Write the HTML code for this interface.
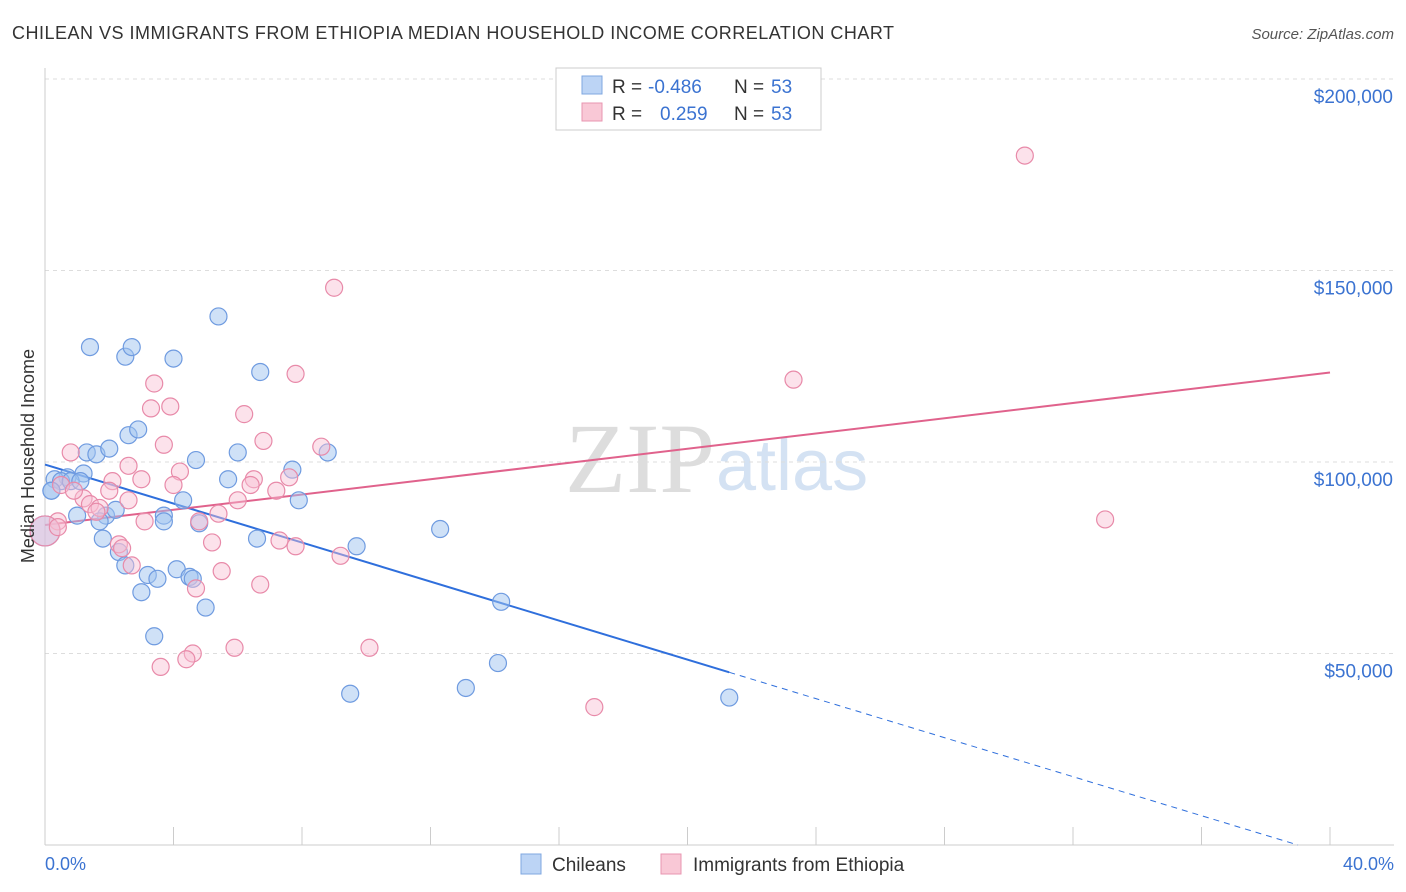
<!DOCTYPE html>
<html><head><meta charset="utf-8"><style>
body{margin:0;background:#fff;font-family:"Liberation Sans",sans-serif;}
svg{display:block}
</style></head><body>
<svg id="chart" width="1406" height="892">
<text x="12" y="39" font-size="18" fill="#333" textLength="882">CHILEAN VS IMMIGRANTS FROM ETHIOPIA MEDIAN HOUSEHOLD INCOME CORRELATION CHART</text>
<text x="1394" y="39" font-size="15" fill="#555" font-style="italic" text-anchor="end">Source: ZipAtlas.com</text>
<text x="715" y="492" font-size="100" fill="#ddd" text-anchor="end" font-family="Liberation Serif">ZIP</text>
<text x="716" y="490" font-size="72" fill="#d4e2f3">atlas</text>
<g id="grid"></g><g id="axes"></g><g id="trends"></g><g id="points"></g>
<text x="34" y="456" font-size="18" fill="#333" text-anchor="middle" transform="rotate(-90 34 456)">Median Household Income</text>
<text x="45" y="870" font-size="18" fill="#3b73d1">0.0%</text>
<text x="1394" y="870" font-size="18" fill="#3b73d1" text-anchor="end">40.0%</text>
<g>
<rect x="556" y="68" width="265" height="62" fill="#fff" stroke="#ccc"/>
<rect x="582" y="76" width="20" height="18" fill="#bcd4f5" stroke="#7fa7e0"/>
<rect x="582" y="103" width="20" height="18" fill="#f9c8d6" stroke="#e896b0"/>
<text y="93" font-size="19" fill="#333"><tspan x="612">R =</tspan><tspan x="648" fill="#3b73d1">-0.486</tspan><tspan x="734">N =</tspan><tspan x="771" fill="#3b73d1">53</tspan></text>
<text y="120" font-size="19" fill="#333"><tspan x="612">R =</tspan><tspan x="660" fill="#3b73d1">0.259</tspan><tspan x="734">N =</tspan><tspan x="771" fill="#3b73d1">53</tspan></text>
</g>
<g>
<rect x="521" y="854" width="20" height="20" fill="#bcd4f5" stroke="#7fa7e0"/>
<text x="552" y="871" font-size="19" fill="#333">Chileans</text>
<rect x="661" y="854" width="20" height="20" fill="#f9c8d6" stroke="#e896b0"/>
<text x="693" y="871" font-size="19" fill="#333">Immigrants from Ethiopia</text>
</g>
</svg>
<script>
const yTicks=[50000,100000,150000,200000];
const yTickLabels=["$50,000","$100,000","$150,000","$200,000"];
const blueX=[1.4,2.5,2.7,4.0,5.4,6.7,2.6,2.9,1.3,1.6,2.0,4.7,6.0,7.7,8.8,1.2,0.7,0.3,0.5,0.8,0.2,4.3,7.9,5.7,1.0,1.9,2.2,3.7,3.7,4.8,12.3,1.8,6.6,9.7,2.3,2.5,3.2,3.5,4.1,4.5,4.6,3.0,5.0,14.2,3.4,14.1,9.5,13.1,21.3,0.0,0.2,1.7,1.1];
const blueY=[130000,127500,130000,127000,138000,123500,107000,108500,102500,102000,103500,100500,102500,98000,102500,97000,96000,95500,95000,95000,92500,90000,90000,95500,86000,86000,87500,86000,84500,84000,82500,80000,80000,78000,76500,73000,70500,69500,72000,70000,69500,66000,62000,63500,54500,47500,39500,41000,38500,82000,92500,84500,95000];
const pinkX=[30.5,9.0,23.3,7.8,3.4,3.9,3.3,6.2,6.8,3.7,8.6,0.8,2.6,4.2,6.5,7.6,3.0,2.1,0.5,6.4,4.0,7.2,2.0,1.2,1.4,6.0,1.7,5.4,3.1,0.4,33.0,0.0,7.3,5.2,2.3,2.4,7.8,9.2,2.7,5.5,6.7,4.7,5.9,10.1,4.6,4.4,3.6,17.1,0.4,1.6,0.9,4.8,2.6];
const pinkY=[180000,145500,121500,123000,120500,114500,114000,112500,105500,104500,104000,102500,99000,97500,95500,96000,95500,95000,94000,94000,94000,92500,92500,90500,89000,90000,88000,86500,84500,84500,85000,82000,79500,79000,78500,77500,78000,75500,73000,71500,68000,67000,51500,51500,50000,48500,46500,36000,83000,87000,92500,84500,90000];
const X0=45,X1=1330,Y0=845,pxPer=191.5/50000;
const sx=v=>X0+(X1-X0)*v/40, sy=v=>Y0-v*pxPer;
const NS="http://www.w3.org/2000/svg";
function mk(t,a,p){const e=document.createElementNS(NS,t);for(const k in a)e.setAttribute(k,a[k]);p.appendChild(e);return e;}
const grid=document.getElementById('grid'),axes=document.getElementById('axes'),tr=document.getElementById('trends'),pts=document.getElementById('points');
yTicks.forEach((v,i)=>{
 const l=mk('line',{x1:X0,x2:1394,y1:sy(v),y2:sy(v),stroke:'#ddd','stroke-dasharray':'4,4'},grid);
 
 
 const t=mk('text',{x:1393,y:sy(v)+24,'font-size':19,fill:'#3b73d1','text-anchor':'end'},grid);
 t.textContent=yTickLabels[i];
 
 
});
const topGrid=mk('line',{x1:X0,x2:1394,y1:79,y2:79,stroke:'#ddd','stroke-dasharray':'4,4'},grid);


const xa=mk('line',{x1:X0,x2:1394,y1:Y0,y2:Y0,stroke:'#ccc'},axes);


const ya=mk('line',{x1:X0,x2:X0,y1:68,y2:Y0,stroke:'#ccc'},axes);


for(let i=0;i<=10;i++){const tk=mk('line',{x1:sx(i*4),x2:sx(i*4),y1:Y0-18,y2:Y0,stroke:'#ccc'},axes);
 
 }
function fit(xs,ys){const n=xs.length;let mx=0,my=0;xs.forEach((x,i)=>{mx+=x;my+=ys[i]});mx/=n;my/=n;let a=0,b=0;xs.forEach((x,i)=>{a+=(x-mx)*(ys[i]-my);b+=(x-mx)**2});const s=a/b;return [s,my-s*mx];}
const [bs,bi]=fit(blueX,blueY),[ps,pi]=fit(pinkX,pinkY);
const bEnd=Math.max(...blueX);
const bl=mk('line',{x1:sx(0),y1:sy(bi),x2:sx(bEnd),y2:sy(bi+bs*bEnd),stroke:'#2f6fdc','stroke-width':2},tr);


const xz=Math.min(40,-bi/bs);
const bd=mk('line',{x1:sx(bEnd),y1:sy(bi+bs*bEnd),x2:sx(xz),y2:sy(bi+bs*xz),stroke:'#2f6fdc','stroke-width':1,'stroke-dasharray':'6,5'},tr);


const pl=mk('line',{x1:sx(0),y1:sy(pi),x2:sx(40),y2:sy(pi+ps*40),stroke:'#e0628c','stroke-width':2},tr);


function dots(xs,ys,f,s,name){xs.forEach((x,i)=>{const r=(x===0)?15:8.5;
 const c=mk('circle',{cx:sx(x),cy:sy(ys[i]),r:r,fill:f,stroke:s,'stroke-width':1.2},pts);
 
 });}
dots(blueX,blueY,'rgba(160,195,240,0.5)','#6f9be0','chilean-point');
dots(pinkX,pinkY,'rgba(248,190,210,0.45)','#e88aa9','ethiopia-point');
</script>
</body></html>
